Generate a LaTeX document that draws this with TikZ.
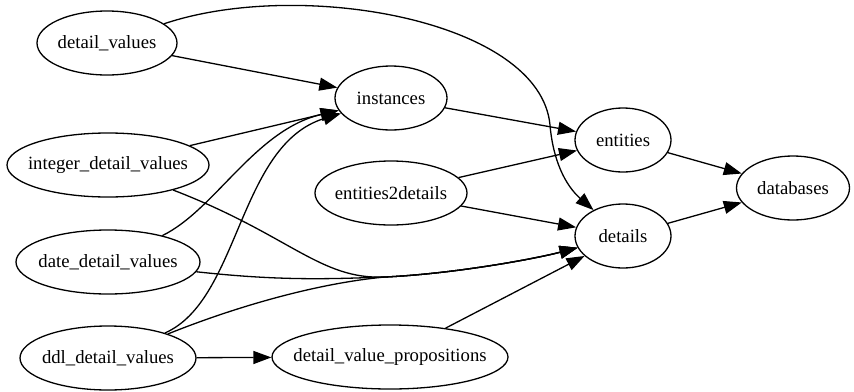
\documentclass[tikz,border=0pt]{standalone}
\usepackage{fontspec}
\setmainfont{Liberation Serif}
\usepackage{tikz}
\usetikzlibrary{shapes}
\usetikzlibrary{arrows.meta}

\begin{document}
\begin{tikzpicture}[x=1pt,y=-1pt,
	tbl/.style={ellipse,draw,line width=1.3pt,inner sep=0pt,minimum height=64pt,font=\fontsize{18.7pt}{22pt}\selectfont},
	dep/.style={line width=1.3pt,-{Triangle[length=18pt,width=13pt]}}]
	\useasboundingbox (0,0) rectangle (854,391);
	\node[tbl,minimum width=140pt] (dv) at (107,43) {\makebox[0pt]{detail\_values}};
	\node[tbl,minimum width=202pt] (int) at (108,165) {\makebox[0pt]{integer\_detail\_values}};
	\node[tbl,minimum width=184pt] (date) at (108,262) {\makebox[0pt]{date\_detail\_values}};
	\node[tbl,minimum width=176pt] (ddl) at (108,358) {\makebox[0pt]{ddl\_detail\_values}};
	\node[tbl,minimum width=112pt] (inst) at (391,98) {\makebox[0pt]{instances}};
	\node[tbl,minimum width=152pt] (e2d) at (391,193) {\makebox[0pt]{entities2details}};
	\node[tbl,minimum width=236pt] (dvp) at (390,357) {\makebox[0pt]{detail\_value\_propositions}};
	\node[tbl,minimum width=96pt] (ent) at (623,140) {\makebox[0pt]{entities}};
	\node[tbl,minimum width=96pt] (det) at (623,236) {\makebox[0pt]{details}};
	\node[tbl,minimum width=113pt] (db) at (793,188) {\makebox[0pt]{databases}};
	\coordinate (jn) at (385,277);
	% into instances
	\draw[dep] (dv) -- (inst);
	\draw[dep] (int) -- (inst);
	\draw[dep] (date) .. controls (215,210) and (255,130) .. (inst);
	\draw[dep] (ddl) .. controls (240,300) and (238,145) .. (inst);
	% into details
	\draw[dep] (dv) .. controls (300,-22) and (540,20) .. (550,125) .. controls (553,160) and (565,185) .. (det);
	\draw[dep] (int) .. controls (290,235) and (320,280) .. (jn) .. controls (450,274) and (530,260) .. (det);
	\draw[dep] (date) .. controls (280,281) and (330,279) .. (jn) .. controls (450,274) and (530,260) .. (det);
	\draw[dep] (ddl) .. controls (240,305) and (320,283) .. (jn) .. controls (450,274) and (530,260) .. (det);
	\draw[dep] (e2d) -- (det);
	\draw[dep] (dvp) -- (det);
	\draw[dep] (ddl) -- (dvp);
	% into entities and databases
	\draw[dep] (inst) -- (ent);
	\draw[dep] (e2d) -- (ent);
	\draw[dep] (ent) -- (db);
	\draw[dep] (det) -- (db);
\end{tikzpicture}
\end{document}
